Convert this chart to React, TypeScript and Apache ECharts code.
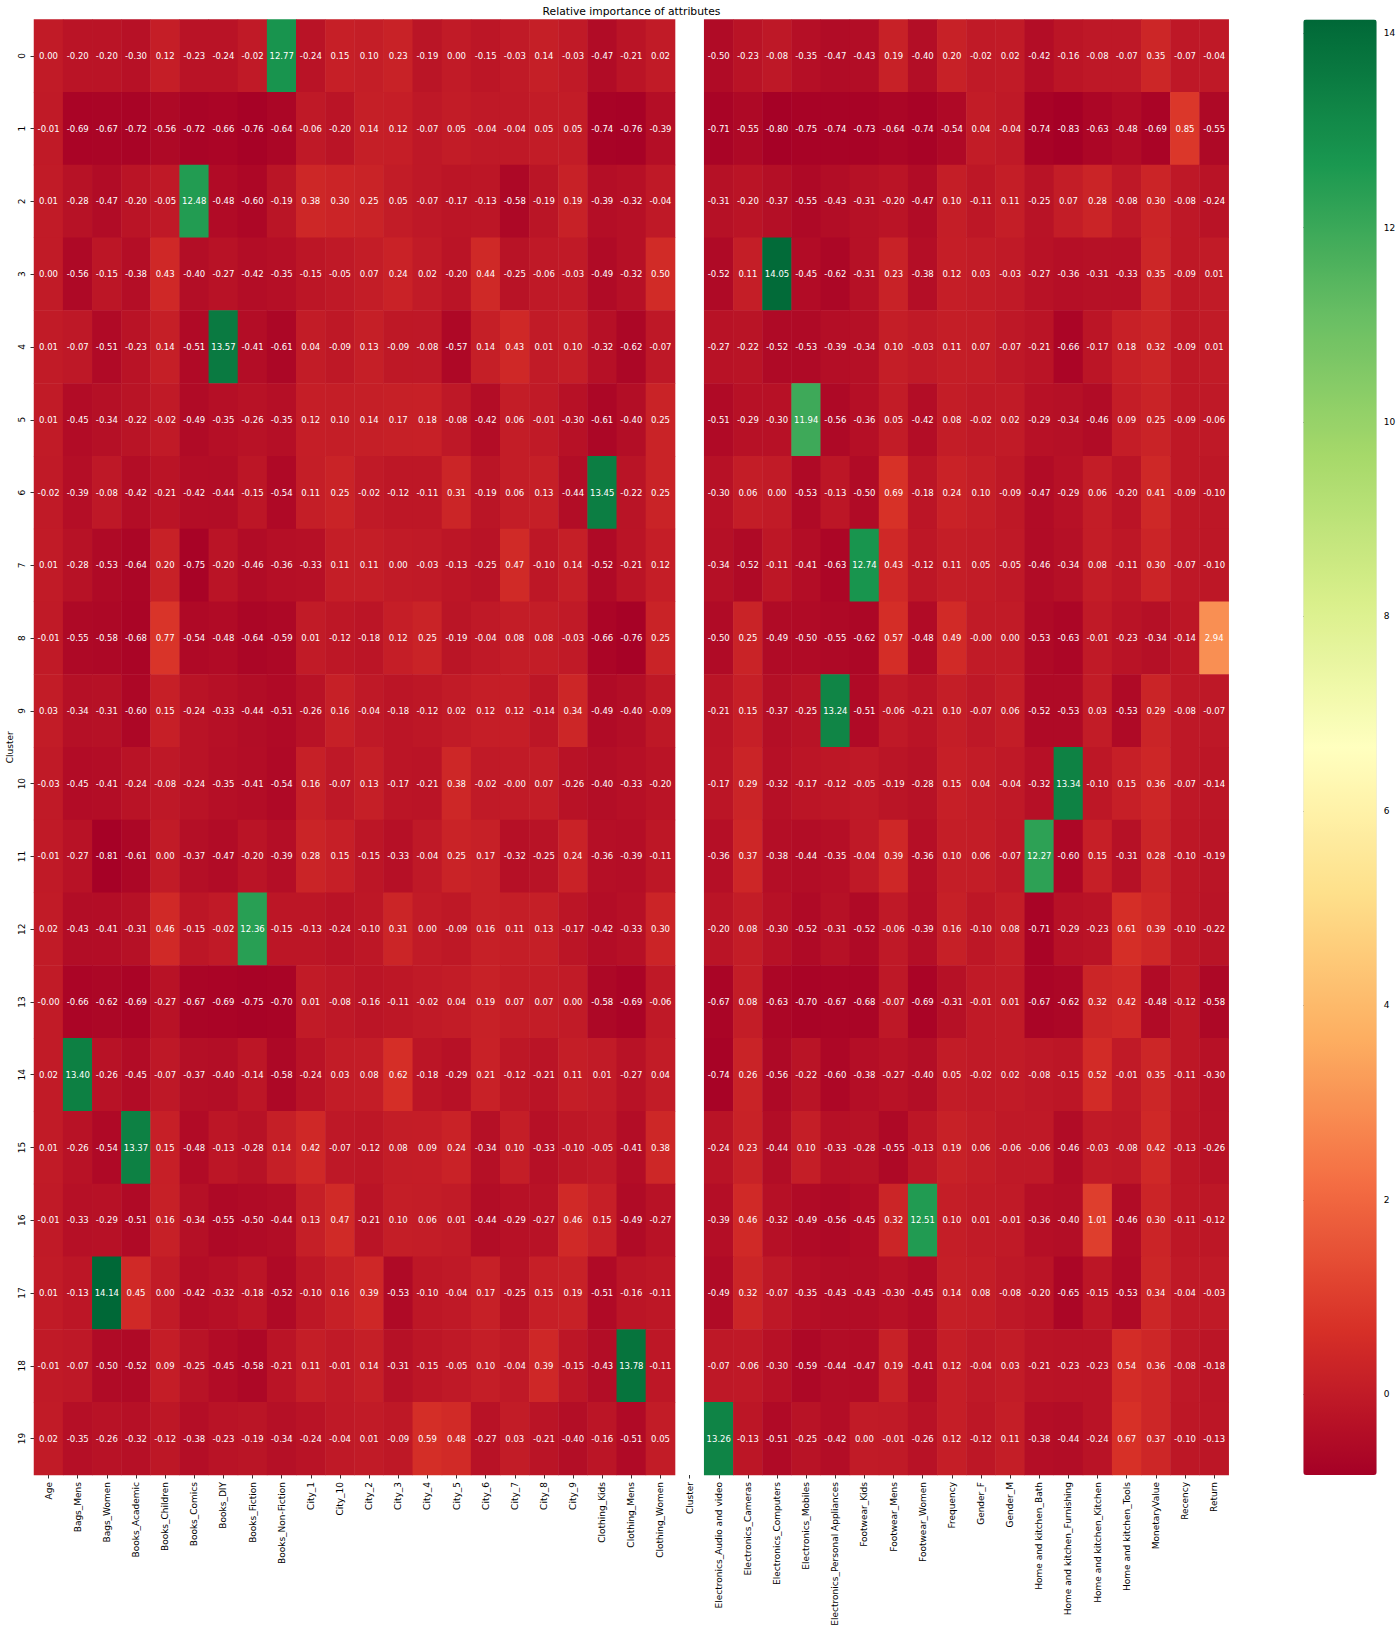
import React, { useEffect, useRef } from "react";
import * as echarts from "echarts";

const attributes = ["Age","Bags_Mens","Bags_Women","Books_Academic","Books_Children","Books_Comics","Books_DIY","Books_Fiction","Books_Non-Fiction","City_1","City_10","City_2","City_3","City_4","City_5","City_6","City_7","City_8","City_9","Clothing_Kids","Clothing_Mens","Clothing_Women","Cluster","Electronics_Audio and video","Electronics_Cameras","Electronics_Computers","Electronics_Mobiles","Electronics_Personal Appliances","Footwear_Kids","Footwear_Mens","Footwear_Women","Frequency","Gender_F","Gender_M","Home and kitchen_Bath","Home and kitchen_Furnishing","Home and kitchen_Kitchen","Home and kitchen_Tools","MonetaryValue","Recency","Return"];
const clusters = ["0","1","2","3","4","5","6","7","8","9","10","11","12","13","14","15","16","17","18","19"];
const colorbarTicks = [0, 2, 4, 6, 8, 10, 12, 14];
const valueMin = -0.83;
const valueMax = 14.14;
const rdYlGn = ["#a50026","#d73027","#f46d43","#fdae61","#fee08b","#ffffbf","#d9ef8b","#a6d96a","#66bd63","#1a9850","#006837"];

// -0.001 stands for the values printed as "-0.00" in the picture.
const row0 = [0.00,-0.20,-0.20,-0.30,0.12,-0.23,-0.24,-0.02,12.77,-0.24,0.15,0.10,0.23,-0.19,0.00,-0.15,-0.03,0.14,-0.03,-0.47,-0.21,0.02,null,-0.50,-0.23,-0.08,-0.35,-0.47,-0.43,0.19,-0.40,0.20,-0.02,0.02,-0.42,-0.16,-0.08,-0.07,0.35,-0.07,-0.04];
const row1 = [-0.01,-0.69,-0.67,-0.72,-0.56,-0.72,-0.66,-0.76,-0.64,-0.06,-0.20,0.14,0.12,-0.07,0.05,-0.04,-0.04,0.05,0.05,-0.74,-0.76,-0.39,null,-0.71,-0.55,-0.80,-0.75,-0.74,-0.73,-0.64,-0.74,-0.54,0.04,-0.04,-0.74,-0.83,-0.63,-0.48,-0.69,0.85,-0.55];
const row2 = [0.01,-0.28,-0.47,-0.20,-0.05,12.48,-0.48,-0.60,-0.19,0.38,0.30,0.25,0.05,-0.07,-0.17,-0.13,-0.58,-0.19,0.19,-0.39,-0.32,-0.04,null,-0.31,-0.20,-0.37,-0.55,-0.43,-0.31,-0.20,-0.47,0.10,-0.11,0.11,-0.25,0.07,0.28,-0.08,0.30,-0.08,-0.24];
const row3 = [0.00,-0.56,-0.15,-0.38,0.43,-0.40,-0.27,-0.42,-0.35,-0.15,-0.05,0.07,0.24,0.02,-0.20,0.44,-0.25,-0.06,-0.03,-0.49,-0.32,0.50,null,-0.52,0.11,14.05,-0.45,-0.62,-0.31,0.23,-0.38,0.12,0.03,-0.03,-0.27,-0.36,-0.31,-0.33,0.35,-0.09,0.01];
const row4 = [0.01,-0.07,-0.51,-0.23,0.14,-0.51,13.57,-0.41,-0.61,0.04,-0.09,0.13,-0.09,-0.08,-0.57,0.14,0.43,0.01,0.10,-0.32,-0.62,-0.07,null,-0.27,-0.22,-0.52,-0.53,-0.39,-0.34,0.10,-0.03,0.11,0.07,-0.07,-0.21,-0.66,-0.17,0.18,0.32,-0.09,0.01];
const row5 = [0.01,-0.45,-0.34,-0.22,-0.02,-0.49,-0.35,-0.26,-0.35,0.12,0.10,0.14,0.17,0.18,-0.08,-0.42,0.06,-0.01,-0.30,-0.61,-0.40,0.25,null,-0.51,-0.29,-0.30,11.94,-0.56,-0.36,0.05,-0.42,0.08,-0.02,0.02,-0.29,-0.34,-0.46,0.09,0.25,-0.09,-0.06];
const row6 = [-0.02,-0.39,-0.08,-0.42,-0.21,-0.42,-0.44,-0.15,-0.54,0.11,0.25,-0.02,-0.12,-0.11,0.31,-0.19,0.06,0.13,-0.44,13.45,-0.22,0.25,null,-0.30,0.06,0.00,-0.53,-0.13,-0.50,0.69,-0.18,0.24,0.10,-0.09,-0.47,-0.29,0.06,-0.20,0.41,-0.09,-0.10];
const row7 = [0.01,-0.28,-0.53,-0.64,0.20,-0.75,-0.20,-0.46,-0.36,-0.33,0.11,0.11,0.00,-0.03,-0.13,-0.25,0.47,-0.10,0.14,-0.52,-0.21,0.12,null,-0.34,-0.52,-0.11,-0.41,-0.63,12.74,0.43,-0.12,0.11,0.05,-0.05,-0.46,-0.34,0.08,-0.11,0.30,-0.07,-0.10];
const row8 = [-0.01,-0.55,-0.58,-0.68,0.77,-0.54,-0.48,-0.64,-0.59,0.01,-0.12,-0.18,0.12,0.25,-0.19,-0.04,0.08,0.08,-0.03,-0.66,-0.76,0.25,null,-0.50,0.25,-0.49,-0.50,-0.55,-0.62,0.57,-0.48,0.49,-0.001,0.00,-0.53,-0.63,-0.01,-0.23,-0.34,-0.14,2.94];
const row9 = [0.03,-0.34,-0.31,-0.60,0.15,-0.24,-0.33,-0.44,-0.51,-0.26,0.16,-0.04,-0.18,-0.12,0.02,0.12,0.12,-0.14,0.34,-0.49,-0.40,-0.09,null,-0.21,0.15,-0.37,-0.25,13.24,-0.51,-0.06,-0.21,0.10,-0.07,0.06,-0.52,-0.53,0.03,-0.53,0.29,-0.08,-0.07];
const row10 = [-0.03,-0.45,-0.41,-0.24,-0.08,-0.24,-0.35,-0.41,-0.54,0.16,-0.07,0.13,-0.17,-0.21,0.38,-0.02,-0.001,0.07,-0.26,-0.40,-0.33,-0.20,null,-0.17,0.29,-0.32,-0.17,-0.12,-0.05,-0.19,-0.28,0.15,0.04,-0.04,-0.32,13.34,-0.10,0.15,0.36,-0.07,-0.14];
const row11 = [-0.01,-0.27,-0.81,-0.61,0.00,-0.37,-0.47,-0.20,-0.39,0.28,0.15,-0.15,-0.33,-0.04,0.25,0.17,-0.32,-0.25,0.24,-0.36,-0.39,-0.11,null,-0.36,0.37,-0.38,-0.44,-0.35,-0.04,0.39,-0.36,0.10,0.06,-0.07,12.27,-0.60,0.15,-0.31,0.28,-0.10,-0.19];
const row12 = [0.02,-0.43,-0.41,-0.31,0.46,-0.15,-0.02,12.36,-0.15,-0.13,-0.24,-0.10,0.31,0.00,-0.09,0.16,0.11,0.13,-0.17,-0.42,-0.33,0.30,null,-0.20,0.08,-0.30,-0.52,-0.31,-0.52,-0.06,-0.39,0.16,-0.10,0.08,-0.71,-0.29,-0.23,0.61,0.39,-0.10,-0.22];
const row13 = [-0.001,-0.66,-0.62,-0.69,-0.27,-0.67,-0.69,-0.75,-0.70,0.01,-0.08,-0.16,-0.11,-0.02,0.04,0.19,0.07,0.07,0.00,-0.58,-0.69,-0.06,null,-0.67,0.08,-0.63,-0.70,-0.67,-0.68,-0.07,-0.69,-0.31,-0.01,0.01,-0.67,-0.62,0.32,0.42,-0.48,-0.12,-0.58];
const row14 = [0.02,13.40,-0.26,-0.45,-0.07,-0.37,-0.40,-0.14,-0.58,-0.24,0.03,0.08,0.62,-0.18,-0.29,0.21,-0.12,-0.21,0.11,0.01,-0.27,0.04,null,-0.74,0.26,-0.56,-0.22,-0.60,-0.38,-0.27,-0.40,0.05,-0.02,0.02,-0.08,-0.15,0.52,-0.01,0.35,-0.11,-0.30];
const row15 = [0.01,-0.26,-0.54,13.37,0.15,-0.48,-0.13,-0.28,0.14,0.42,-0.07,-0.12,0.08,0.09,0.24,-0.34,0.10,-0.33,-0.10,-0.05,-0.41,0.38,null,-0.24,0.23,-0.44,0.10,-0.33,-0.28,-0.55,-0.13,0.19,0.06,-0.06,-0.06,-0.46,-0.03,-0.08,0.42,-0.13,-0.26];
const row16 = [-0.01,-0.33,-0.29,-0.51,0.16,-0.34,-0.55,-0.50,-0.44,0.13,0.47,-0.21,0.10,0.06,0.01,-0.44,-0.29,-0.27,0.46,0.15,-0.49,-0.27,null,-0.39,0.46,-0.32,-0.49,-0.56,-0.45,0.32,12.51,0.10,0.01,-0.01,-0.36,-0.40,1.01,-0.46,0.30,-0.11,-0.12];
const row17 = [0.01,-0.13,14.14,0.45,0.00,-0.42,-0.32,-0.18,-0.52,-0.10,0.16,0.39,-0.53,-0.10,-0.04,0.17,-0.25,0.15,0.19,-0.51,-0.16,-0.11,null,-0.49,0.32,-0.07,-0.35,-0.43,-0.43,-0.30,-0.45,0.14,0.08,-0.08,-0.20,-0.65,-0.15,-0.53,0.34,-0.04,-0.03];
const row18 = [-0.01,-0.07,-0.50,-0.52,0.09,-0.25,-0.45,-0.58,-0.21,0.11,-0.01,0.14,-0.31,-0.15,-0.05,0.10,-0.04,0.39,-0.15,-0.43,13.78,-0.11,null,-0.07,-0.06,-0.30,-0.59,-0.44,-0.47,0.19,-0.41,0.12,-0.04,0.03,-0.21,-0.23,-0.23,0.54,0.36,-0.08,-0.18];
const row19 = [0.02,-0.35,-0.26,-0.32,-0.12,-0.38,-0.23,-0.19,-0.34,-0.24,-0.04,0.01,-0.09,0.59,0.48,-0.27,0.03,-0.21,-0.40,-0.16,-0.51,0.05,null,13.26,-0.13,-0.51,-0.25,-0.42,0.00,-0.01,-0.26,0.12,-0.12,0.11,-0.38,-0.44,-0.24,0.67,0.37,-0.10,-0.13];
const rows = [row0,row1,row2,row3,row4,row5,row6,row7,row8,row9,row10,row11,row12,row13,row14,row15,row16,row17,row18,row19];

const FONT = "DejaVu Sans";

export default function App() {
  const ref = useRef<HTMLDivElement>(null);
  useEffect(() => {
    document.body.style.margin = "0";
    const chart = echarts.init(ref.current!, null, { renderer: "svg" });
    const data: [number, number, number][] = [];
    rows.forEach((r, y) => r.forEach((v, x) => { if (v !== null) data.push([x, y, v as number]); }));
    const plot = { top: 19.5, height: 1455.5, outerBoundsMode: "none" };
    chart.setOption({
      animation: false,
      backgroundColor: "#ffffff",
      textStyle: { fontFamily: FONT },
      title: {
        text: "Relative importance of attributes",
        left: 626.5,
        textAlign: "center",
        top: 1,
        textStyle: { fontFamily: FONT, fontSize: 10.75, fontWeight: "normal", color: "#000" },
      },
      grid: [
        { left: 34, width: 1194.7, ...plot },
        { left: 1303.3, width: 73.4, ...plot },
      ],
      xAxis: [
        {
          type: "category", gridIndex: 0, data: attributes,
          axisLine: { show: false },
          axisTick: { show: true, alignWithLabel: true, length: 3.5, lineStyle: { color: "#000", width: 0.8 } },
          axisLabel: { interval: 0, rotate: 90, fontFamily: FONT, fontSize: 9, color: "#000", margin: 7 },
          splitLine: { show: false },
        },
        { type: "value", gridIndex: 1, show: false, min: 0, max: 1 },
      ],
      yAxis: [
        {
          type: "category", gridIndex: 0, data: clusters, inverse: true,
          name: "Cluster", nameLocation: "middle", nameGap: 20, nameRotate: 90, nameMoveOverlap: false,
          nameTextStyle: { fontFamily: FONT, fontSize: 9, color: "#000" },
          axisLine: { show: false },
          axisTick: { show: true, alignWithLabel: true, length: 3.5, lineStyle: { color: "#000", width: 0.8 } },
          axisLabel: { interval: 0, rotate: 90, fontFamily: FONT, fontSize: 9, color: "#000", margin: 7.5 },
          splitLine: { show: false },
        },
        {
          type: "value", gridIndex: 1, position: "right", min: valueMin, max: valueMax,
          axisLine: { show: false },
          axisTick: { show: true, length: 3.5, customValues: colorbarTicks, lineStyle: { color: "#000", width: 0.8 } },
          axisLabel: { customValues: colorbarTicks, fontFamily: FONT, fontSize: 9, color: "#000", margin: 7 },
          splitLine: { show: false },
        },
      ],
      visualMap: {
        type: "continuous", seriesIndex: 0, min: valueMin, max: valueMax,
        inRange: { color: rdYlGn },
        calculable: false, hoverLink: false, realtime: false,
        orient: "vertical", padding: 0,
        left: 1303.3, top: 19.5, itemWidth: 73.4, itemHeight: 1455.5,
        showLabel: false, text: null,
      },
      series: [
        {
          type: "heatmap", xAxisIndex: 0, yAxisIndex: 0, data,
          progressive: 0,
          itemStyle: { borderWidth: 0 },
          label: {
            show: true, color: "#fff", fontFamily: FONT, fontSize: 8.5,
            formatter: (p: any) => (p.value[2] as number).toFixed(2),
          },
          emphasis: { disabled: true },
        },
        { type: "scatter", xAxisIndex: 1, yAxisIndex: 1, data: [], silent: true },
      ],
    });
    return () => chart.dispose();
  }, []);
  return <div ref={ref} style={{ position: "absolute", left: 0, top: 0, width: 1400, height: 1630 }} />;
}
